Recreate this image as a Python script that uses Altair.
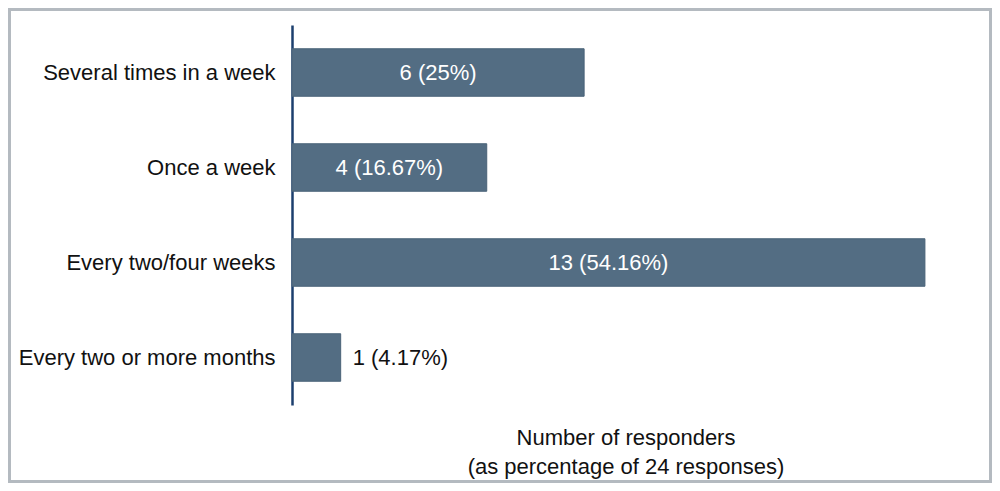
import altair as alt
import pandas as pd

categories = ["Several times in a week", "Once a week", "Every two/four weeks", "Every two or more months"]
counts = [6, 4, 13, 1]
labels = ["6 (25%)", "4 (16.67%)", "13 (54.16%)", "1 (4.17%)"]

df = pd.DataFrame({"cat": categories, "n": counts, "label": labels})

FONT = "Liberation Sans"
BAR = "#536d83"
FS = 22

y_enc = alt.Y("cat:N", sort=categories,
              scale=alt.Scale(paddingInner=0.5, paddingOuter=0.25),
              axis=alt.Axis(title=None, ticks=False, labelFontSize=FS, labelFont=FONT,
                            labelColor="#111111", labelPadding=17, labelLimit=400,
                            domainColor="#1c3f6e", domainWidth=2.5, grid=False))

x_scale = alt.Scale(domain=[0, 13.7], nice=False, zero=True)

bars = alt.Chart(df).mark_bar(color=BAR, stroke="#4a6378", strokeWidth=1).encode(
    x=alt.X("n:Q", scale=x_scale,
            axis=alt.Axis(title=["Number of responders", "(as percentage of 24 responses)"],
                          labels=False, ticks=False, domain=False, grid=False,
                          titleFont=FONT, titleFontSize=FS, titleFontWeight="normal",
                          titleColor="#111111", titleLineHeight=29, titlePadding=22)),
    y=y_enc,
)

inside = alt.Chart(df).transform_filter("datum.n >= 2").transform_calculate(
    mid="datum.n / 2").mark_text(font=FONT, fontSize=FS, color="white", align="center",
                                 baseline="middle").encode(
    x=alt.X("mid:Q", scale=x_scale), y=alt.Y("cat:N", sort=categories), text="label:N")

outside = alt.Chart(df).transform_filter("datum.n < 2").mark_text(
    font=FONT, fontSize=FS, color="#111111", align="left", baseline="middle", dx=12).encode(
    x=alt.X("n:Q", scale=x_scale), y=alt.Y("cat:N", sort=categories), text="label:N")

frame = alt.Chart(pd.DataFrame({"f": [0]})).mark_rect(
    filled=False, stroke="#b4bac0", strokeWidth=3).encode(
    x=alt.value(-282.5), x2=alt.value(698.5), y=alt.value(-15.5), y2=alt.value(456.5))

chart = alt.layer(bars, inside, outside, frame).properties(
    width=667, height=380,
    autosize=alt.AutoSizeParams(type="none"),
    padding={"left": 284, "top": 17, "right": 33, "bottom": 78},
).configure(background="white").configure_view(strokeWidth=0, stroke="transparent")

chart.save("out.html", embed_options={"renderer": "svg", "actions": False})
